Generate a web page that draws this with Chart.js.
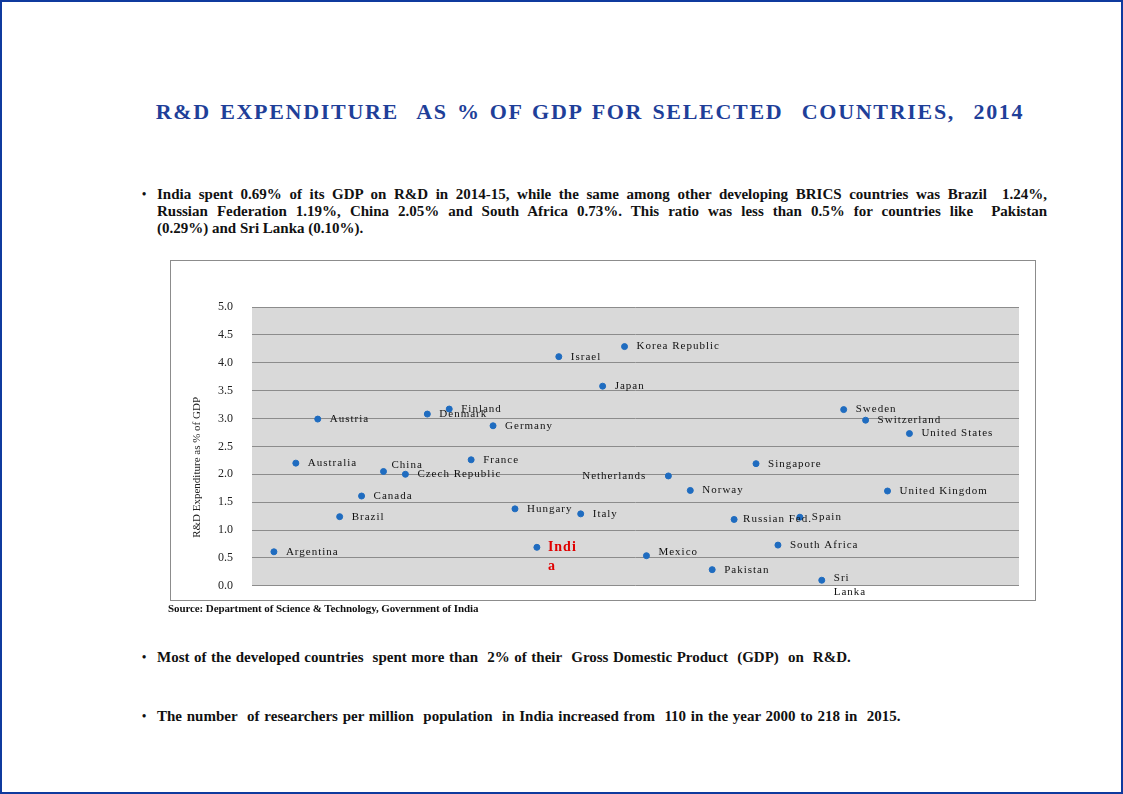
<!DOCTYPE html>
<html>
<head>
<meta charset="utf-8">
<script src="https://cdn.jsdelivr.net/npm/chart.js@4/dist/chart.umd.min.js"></script>
<style>
  html, body { margin: 0; padding: 0; background: #fff; }
  body { width: 1123px; height: 794px; position: relative; overflow: hidden; font-family: "Liberation Serif", "DejaVu Serif", serif; }
  .frame { position: absolute; left: 0; top: 0; width: 1119px; height: 790px; border: 2px solid #0f3a9e; }
  .title { position: absolute; left: 130px; width: 920px; top: 98px; text-align: center; color: #1f3f99; font-weight: bold; font-size: 22px; line-height: 28px; letter-spacing: 1.7px; word-spacing: 2px; white-space: nowrap; }
  .bullet { position: absolute; left: 157px; width: 890px; font-weight: bold; font-size: 15px; line-height: 17px; color: #111; }
  .bullet::before { content: '•'; position: absolute; left: -15px; top: 0; font-size: 12px; }
  .jl { display: block; text-align: justify; text-align-last: justify; }
  .box { position: absolute; left: 170px; top: 260px; width: 864px; height: 339px; border: 1px solid #8c8c8c; }
  .plot { position: absolute; left: 171px; top: 261px; width: 864px; height: 351px; }
  .plot canvas { display: block; }
  .src { position: absolute; left: 168px; top: 602px; font-size: 11px; font-weight: bold; letter-spacing: -0.1px; color: #111; }
</style>
</head>
<body>
<div class="frame"></div>
<div class="title">R&amp;D EXPENDITURE&nbsp; AS % OF GDP FOR SELECTED&nbsp; COUNTRIES,&nbsp; 2014</div>

<div class="bullet" style="top:186px">
  <span class="jl">India spent 0.69% of its GDP on R&amp;D in 2014-15, while the same among other developing BRICS countries was Brazil&nbsp; 1.24%,</span>
  <span class="jl">Russian Federation 1.19%, China 2.05% and South Africa 0.73%. This ratio was less than 0.5% for countries like&nbsp; Pakistan</span>
  <span>(0.29%) and Sri Lanka (0.10%).</span>
</div>

<div class="box"></div>
<div class="plot"><canvas id="chart" width="864" height="351"></canvas></div>
<div class="src">Source: Department of Science &amp; Technology, Government of India</div>

<div class="bullet" style="top:649px; word-spacing:0.8px">Most of the developed countries&nbsp; spent more than&nbsp; 2% of their&nbsp; Gross Domestic Product&nbsp; (GDP)&nbsp; on&nbsp; R&amp;D.</div>
<div class="bullet" style="top:708px; word-spacing:1px">The number&nbsp; of researchers per million&nbsp; population&nbsp; in India increased from&nbsp; 110 in the year 2000 to 218 in&nbsp; 2015.</div>

<script>
// countries (alphabetical, as plotted) and R&D spend as % of GDP
const countries = ['Argentina', 'Australia', 'Austria', 'Brazil', 'Canada', 'China', 'Czech Republic', 'Denmark',
  'Finland', 'France', 'Germany', 'Hungary', 'India', 'Israel', 'Italy', 'Japan', 'Korea Republic', 'Mexico',
  'Netherlands', 'Norway', 'Pakistan', 'Russian Fed.', 'Singapore', 'South Africa', 'Spain', 'Sri Lanka',
  'Sweden', 'Switzerland', 'United Kingdom', 'United States'];
const rdShare = [0.61, 2.20, 2.99, 1.24, 1.61, 2.05, 2.00, 3.08, 3.17, 2.26, 2.87, 1.38, 0.69, 4.11, 1.29, 3.58,
  4.29, 0.54, 1.97, 1.71, 0.29, 1.19, 2.19, 0.73, 1.23, 0.10, 3.16, 2.97, 1.70, 2.73];
// how the label text wraps in the picture
const labelLines = { 'India': ['Indi', 'a'], 'Sri Lanka': ['Sri', 'Lanka'] };
const yTicks = [0, 0.5, 1, 1.5, 2, 2.5, 3, 3.5, 4, 4.5, 5];
const yTitle = 'R&D Expenditure as % of GDP';

const SERIF = '"Liberation Serif", "DejaVu Serif", serif';

const plotBg = {
  id: 'plotBg',
  beforeDraw(chart) {
    const { ctx, chartArea: a } = chart;
    ctx.save();
    ctx.fillStyle = '#d9d9d9';
    ctx.fillRect(a.left, a.top, a.right - a.left, a.bottom - a.top);
    ctx.restore();
  },
  afterDraw(chart) {
    // axis title sits a bit below the middle of the plot in the original
    const { ctx, chartArea: a } = chart;
    ctx.save();
    ctx.translate(26, (a.top + a.bottom) / 2 + 21);
    ctx.rotate(-Math.PI / 2);
    ctx.font = '11px ' + SERIF;
    ctx.fillStyle = '#222';
    ctx.textAlign = 'center';
    ctx.textBaseline = 'middle';
    ctx.fillText(yTitle, 0, 0);
    ctx.restore();
  }
};

const pointLabels = {
  id: 'pointLabels',
  afterDatasetsDraw(chart) {
    const ctx = chart.ctx;
    const pts = chart.getDatasetMeta(0).data;
    ctx.save();
    ctx.textBaseline = 'middle';
    ctx.letterSpacing = '1px';
    pts.forEach((p, i) => {
      const name = countries[i];
      const lines = labelLines[name] || [name];
      let dx = 12, dy = 0, align = 'left';
      if (name === 'India') {
        ctx.font = 'bold 14px ' + SERIF;
        ctx.fillStyle = '#e00000';
        dx = 11;
      } else {
        ctx.font = '11px ' + SERIF;
        ctx.fillStyle = '#111';
      }
      if (name === 'Netherlands') { dx = -22; align = 'right'; }
      if (name === 'China') { dx = 8; dy = -6; }
      if (name === 'Mexico') dy = -4;
      if (name === 'Russian Fed.') dx = 9;
      if (name === 'Sri Lanka') dy = -2;
      ctx.textAlign = align;
      lines.forEach((t, k) => ctx.fillText(t, p.x + dx, p.y + dy + k * (name === 'India' ? 19 : 14)));
    });
    ctx.restore();
  }
};

new Chart(document.getElementById('chart'), {
  type: 'scatter',
  data: {
    datasets: [{
      data: rdShare.map((v, i) => ({ x: i + 1, y: v })),
      backgroundColor: '#1f6cc0',
      borderColor: '#1f6cc0',
      pointRadius: 3,
      pointHoverRadius: 3,
    }],
  },
  options: {
    responsive: false,
    animation: false,
    layout: { padding: { top: 46, bottom: 14, right: 16, left: 0 } },
    plugins: { legend: { display: false }, tooltip: { enabled: false } },
    scales: {
      x: { type: 'linear', min: 0, max: 35, display: false },
      y: {
        min: 0, max: 5,
        afterBuildTicks: s => { s.ticks = yTicks.map(v => ({ value: v })); },
        afterFit: s => { s.width = 81; },
        border: { display: false },
        grid: { color: '#8c8c8c', lineWidth: 1, drawTicks: false },
        ticks: { padding: 19, color: '#222', font: { family: SERIF, size: 12 }, callback: v => v.toFixed(1) },
      },
    },
  },
  plugins: [plotBg, pointLabels],
});
</script>
</body>
</html>
